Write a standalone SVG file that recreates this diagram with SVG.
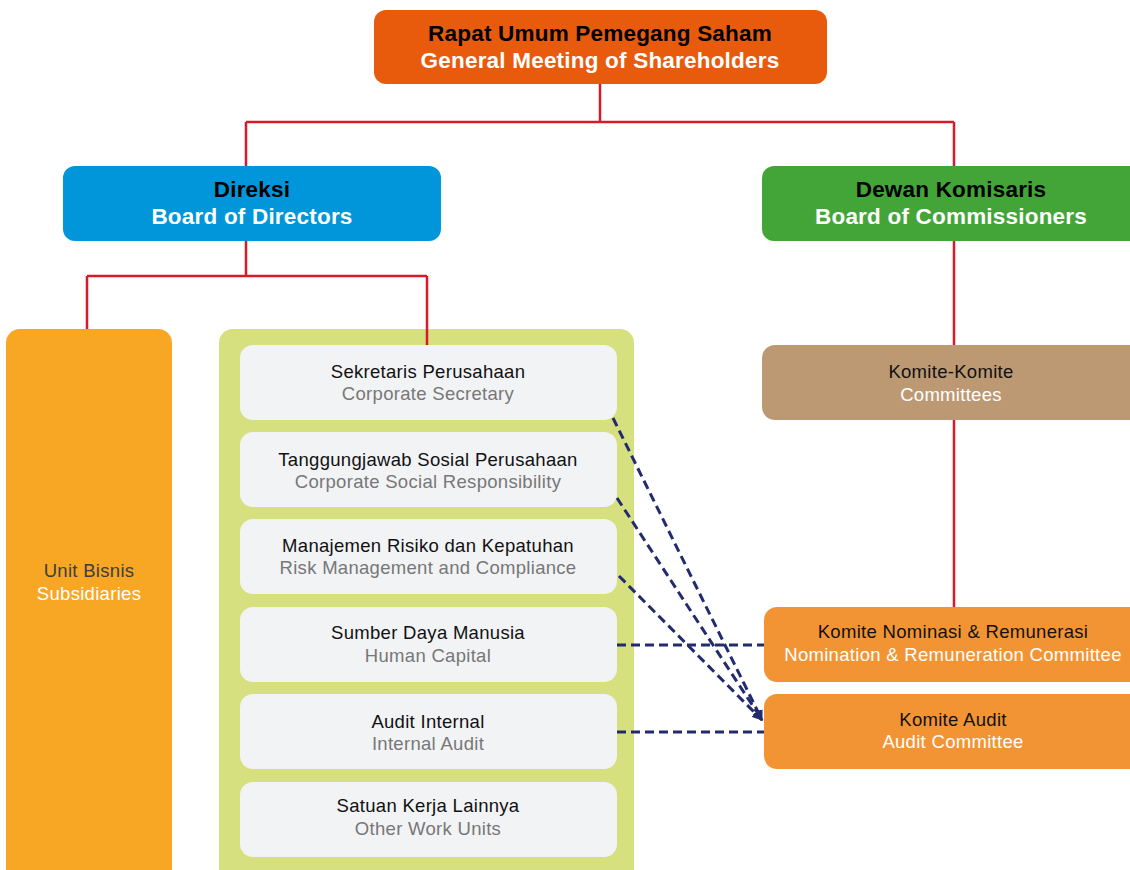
<svg xmlns="http://www.w3.org/2000/svg" width="1130" height="870" viewBox="0 0 1130 870">
<defs>
<style>
.h{font-family:"Liberation Sans",Arial,sans-serif;font-weight:bold;font-size:22.5px;letter-spacing:0.2px;text-anchor:middle}
.t{font-family:"Liberation Sans",Arial,sans-serif;font-size:18.5px;letter-spacing:0.3px;text-anchor:middle}
.red{stroke:#D7192A;stroke-width:2.5;fill:none}
.dash{stroke:#222B6E;stroke-width:3;fill:none;stroke-dasharray:9 5}
.inner{fill:#F2F3F5}
</style>
<marker id="ah" viewBox="0 0 10 10" refX="9" refY="5" markerWidth="3.5" markerHeight="3.5" orient="auto">
<path d="M0,0 L10,5 L0,10 z" fill="#222B6E"/>
</marker>
</defs>
<rect width="1130" height="870" fill="#FFFFFF"/>
<g id="rups">
<rect x="374" y="10" width="453" height="74" rx="12" fill="#E85B0D"/>
<text class="h" x="600" y="41" fill="#000">Rapat Umum Pemegang Saham</text>
<text class="h" x="600" y="68" fill="#FFF">General Meeting of Shareholders</text>
</g>
<g id="direksi">
<rect x="63" y="166" width="378" height="75" rx="12" fill="#0096D9"/>
<text class="h" x="252" y="197" fill="#000">Direksi</text>
<text class="h" x="252" y="224" fill="#FFF">Board of Directors</text>
</g>
<g id="dekom">
<rect x="762" y="166" width="390" height="75" rx="12" fill="#43A538"/>
<text class="h" x="951" y="197" fill="#000">Dewan Komisaris</text>
<text class="h" x="951" y="224" fill="#FFF">Board of Commissioners</text>
</g>
<g id="unit-bisnis">
<rect x="6" y="329" width="166" height="560" rx="14" fill="#F8A724"/>
<text class="t" x="89" y="577" fill="#3E3E3E">Unit Bisnis</text>
<text class="t" x="89" y="600" fill="#FFF">Subsidiaries</text>
</g>
<g id="container">
<rect x="219" y="329" width="415" height="560" rx="14" fill="#D7E07F"/>
</g>
<g id="sekper">
<rect class="inner" x="240" y="345" width="377" height="75" rx="13"/>
<text class="t" x="428" y="378" fill="#111">Sekretaris Perusahaan</text>
<text class="t" x="428" y="400" fill="#777">Corporate Secretary</text>
</g>
<g id="csr">
<rect class="inner" x="240" y="432" width="377" height="75" rx="13"/>
<text class="t" x="428" y="466" fill="#111">Tanggungjawab Sosial Perusahaan</text>
<text class="t" x="428" y="488" fill="#777">Corporate Social Responsibility</text>
</g>
<g id="risk">
<rect class="inner" x="240" y="519" width="377" height="75" rx="13"/>
<text class="t" x="428" y="552" fill="#111">Manajemen Risiko dan Kepatuhan</text>
<text class="t" x="428" y="574" fill="#777">Risk Management and Compliance</text>
</g>
<g id="sdm">
<rect class="inner" x="240" y="607" width="377" height="75" rx="13"/>
<text class="t" x="428" y="639" fill="#111">Sumber Daya Manusia</text>
<text class="t" x="428" y="662" fill="#777">Human Capital</text>
</g>
<g id="audit-internal">
<rect class="inner" x="240" y="694" width="377" height="75" rx="13"/>
<text class="t" x="428" y="728" fill="#111">Audit Internal</text>
<text class="t" x="428" y="750" fill="#777">Internal Audit</text>
</g>
<g id="other">
<rect class="inner" x="240" y="782" width="377" height="75" rx="13"/>
<text class="t" x="428" y="812" fill="#111">Satuan Kerja Lainnya</text>
<text class="t" x="428" y="835" fill="#777">Other Work Units</text>
</g>
<g id="komite">
<rect x="762" y="345" width="390" height="75" rx="13" fill="#BC9973"/>
<text class="t" x="951" y="378" fill="#111">Komite-Komite</text>
<text class="t" x="951" y="401" fill="#FFF">Committees</text>
</g>
<g id="nominasi">
<rect x="764" y="607" width="390" height="75" rx="13" fill="#F39434"/>
<text class="t" x="953" y="638" fill="#111">Komite Nominasi &amp; Remunerasi</text>
<text class="t" x="953" y="661" fill="#FFF">Nomination &amp; Remuneration Committee</text>
</g>
<g id="komite-audit">
<rect x="764" y="694" width="390" height="75" rx="13" fill="#F39434"/>
<text class="t" x="953" y="726" fill="#111">Komite Audit</text>
<text class="t" x="953" y="748" fill="#FFF">Audit Committee</text>
</g>
<g id="connectors">
<path class="red" d="M600,84 V122 M246,122 H954 M246,122 V166 M954,122 V166"/>
<path class="red" d="M246,241 V276 M87,276 H427 M87,276 V329 M427,276 V345"/>
<path class="red" d="M954,241 V345 M954,420 V607"/>
<path class="dash" d="M613,418 L762,720" marker-end="url(#ah)"/>
<path class="dash" d="M617,498 L762,720" marker-end="url(#ah)"/>
<path class="dash" d="M619,576 L762,720" marker-end="url(#ah)"/>
<path class="dash" d="M617,645 H764"/>
<path class="dash" d="M617,732 H764"/>
</g>
</svg>
